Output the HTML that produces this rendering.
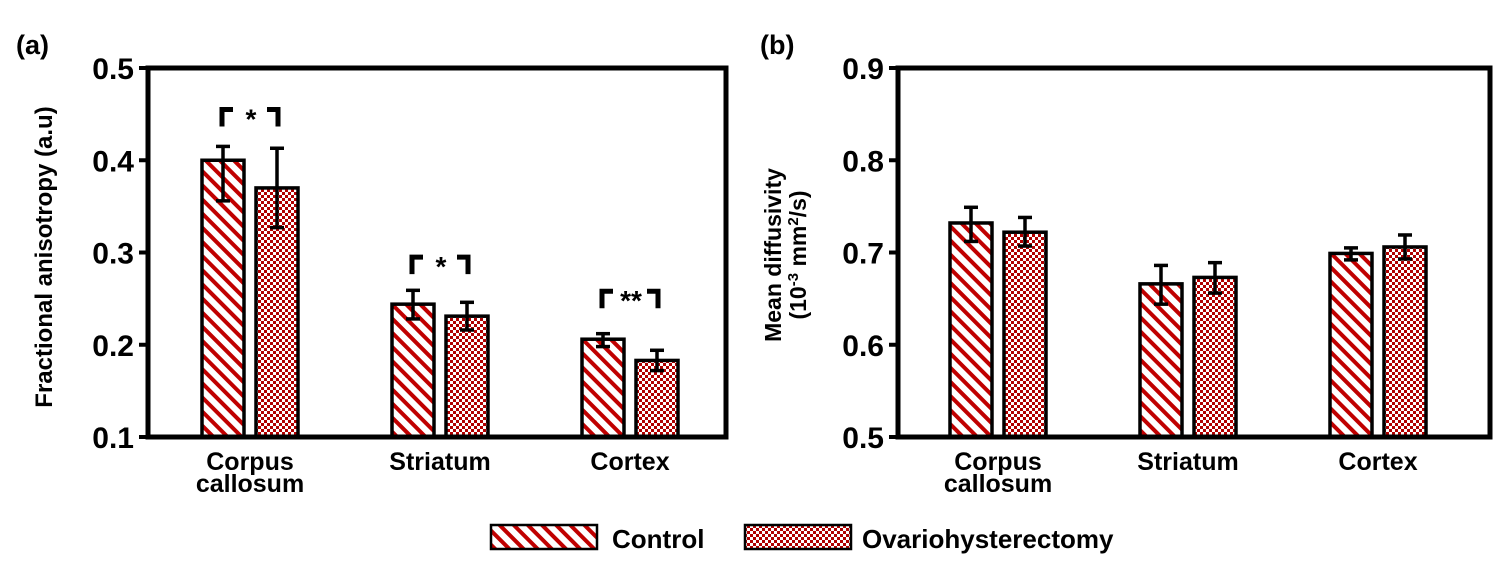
<!DOCTYPE html>
<html><head><meta charset="utf-8"><style>
body{margin:0;background:#fff;}
svg{display:block;font-family:"Liberation Sans",sans-serif;font-weight:bold;}
</style></head><body>
<svg id="c" width="1496" height="578" viewBox="0 0 1496 578">
<defs>
<pattern id="stripe" patternUnits="userSpaceOnUse" width="10" height="10" patternTransform="rotate(-45)">
<rect width="10" height="10" fill="#fff"/><rect width="4" height="10" fill="#c00000"/>
</pattern>
<pattern id="check" patternUnits="userSpaceOnUse" width="6" height="6">
<rect width="6" height="6" fill="#fff"/><rect width="3" height="3" fill="#b00000"/><rect x="3" y="3" width="3" height="3" fill="#b00000"/>
</pattern>
</defs>
</svg>
<script>
const categories=["Corpus|callosum","Striatum","Cortex"];
const faControl=[0.400,0.244,0.206];
const faControlLo=[0.356,0.228,0.198];
const faControlHi=[0.415,0.259,0.212];
const faOvx=[0.370,0.231,0.183];
const faOvxLo=[0.327,0.216,0.172];
const faOvxHi=[0.413,0.246,0.194];
const mdControl=[0.732,0.666,0.699];
const mdControlLo=[0.712,0.644,0.692];
const mdControlHi=[0.749,0.686,0.705];
const mdOvx=[0.722,0.673,0.706];
const mdOvxLo=[0.707,0.656,0.693];
const mdOvxHi=[0.738,0.689,0.719];
const faTicks=[0.1,0.2,0.3,0.4,0.5];
const mdTicks=[0.5,0.6,0.7,0.8,0.9];
const sigLabels=["*","*","**"];

const svg=document.getElementById('c');
const NS='http://www.w3.org/2000/svg';
function el(t,a,txt){const e=document.createElementNS(NS,t);for(const k in a)e.setAttribute(k,a[k]);if(txt!==undefined)e.textContent=txt;svg.appendChild(e);return e;}

function panel(p){
  const top=68,bot=437;
  const y=v=>bot-(v-p.min)/(p.max-p.min)*(bot-top);
  const cx=i=>p.c0+i*190;
  p.ticks.forEach(t=>{
    let e=el('line',{x1:p.left-9,x2:p.left,y1:y(t),y2:y(t),stroke:'#000','stroke-width':4});
    
    
    e=el('text',{x:p.left-14,y:y(t)+11,'text-anchor':'end','font-size':30},t.toFixed(1));
    
    
  });
  const series=[[p.ctrl,p.ctrlLo,p.ctrlHi,'url(#stripe)',-27,'control'],[p.ovx,p.ovxLo,p.ovxHi,'url(#check)',27,'ovx']];
  categories.forEach((c,i)=>{
    series.forEach(s=>{
      const x=cx(i)+s[4];
      let e=el('rect',{x:x-21,y:y(s[0][i]),width:42,height:bot-y(s[0][i]),fill:s[3],stroke:'#000','stroke-width':3.5});
      
      
      const g=[['line',{x1:x,x2:x,y1:y(s[1][i]),y2:y(s[2][i])}],['line',{x1:x-7,x2:x+7,y1:y(s[1][i]),y2:y(s[1][i])}],['line',{x1:x-7,x2:x+7,y1:y(s[2][i]),y2:y(s[2][i])}]];
      g.forEach(q=>{q[1].stroke='#000';q[1]['stroke-width']=3.5;e=el(q[0],q[1]);
        
        });
    });
    const parts=c.split('|');
    parts.forEach((t,j)=>{
      const e=el('text',{x:cx(i),y:470+j*22,'text-anchor':'middle','font-size':25},t);
      
      
    });
    if(p.sig){
      const hy=y(p.sigY[i]);
      const lx=cx(i)-28,rx=cx(i)+28;
      let e=el('path',{d:`M${lx},${hy+17} V${hy} H${lx+11} M${rx-11},${hy} H${rx} V${hy+17}`,fill:'none',stroke:'#000','stroke-width':5});
      
      
      e=el('text',{x:cx(i)+1,y:hy+19,'text-anchor':'middle','font-size':28},sigLabels[i]);
      
      
    }
  });
  let e=el('rect',{x:p.left,y:top,width:p.right-p.left,height:bot-top,fill:'none',stroke:'#000','stroke-width':5});
  
  
}
panel({left:148,right:726,min:0.1,max:0.5,c0:250,ticks:faTicks,ctrl:faControl,ctrlLo:faControlLo,ctrlHi:faControlHi,ovx:faOvx,ovxLo:faOvxLo,ovxHi:faOvxHi,sig:true,sigY:[0.455,0.295,0.258]});
panel({left:898,right:1490,min:0.5,max:0.9,c0:998,ticks:mdTicks,ctrl:mdControl,ctrlLo:mdControlLo,ctrlHi:mdControlHi,ovx:mdOvx,ovxLo:mdOvxLo,ovxHi:mdOvxHi,sig:false});

let e=el('text',{x:16,y:54,'font-size':27},'(a)');


e=el('text',{x:760,y:54,'font-size':27},'(b)');


e=el('text',{transform:'translate(52,257) rotate(-90)','text-anchor':'middle','font-size':24},'Fractional anisotropy (a.u)');


e=el('text',{transform:'translate(781,255) rotate(-90)','text-anchor':'middle','font-size':23},'Mean diffusivity');


e=el('text',{transform:'translate(806,255) rotate(-90)','text-anchor':'middle','font-size':23});
e.innerHTML='(10<tspan dy="-8" font-size="15">-3</tspan><tspan dy="8"> mm</tspan><tspan dy="-8" font-size="15">2</tspan><tspan dy="8">/s)</tspan>';


e=el('rect',{x:491,y:525,width:106,height:24,fill:'url(#stripe)',stroke:'#000','stroke-width':2.5});


e=el('text',{x:612,y:548,'font-size':26},'Control');


e=el('rect',{x:745,y:525,width:106,height:24,fill:'url(#check)',stroke:'#000','stroke-width':2.5});


e=el('text',{x:862,y:548,'font-size':26},'Ovariohysterectomy');


</script>
</body></html>
